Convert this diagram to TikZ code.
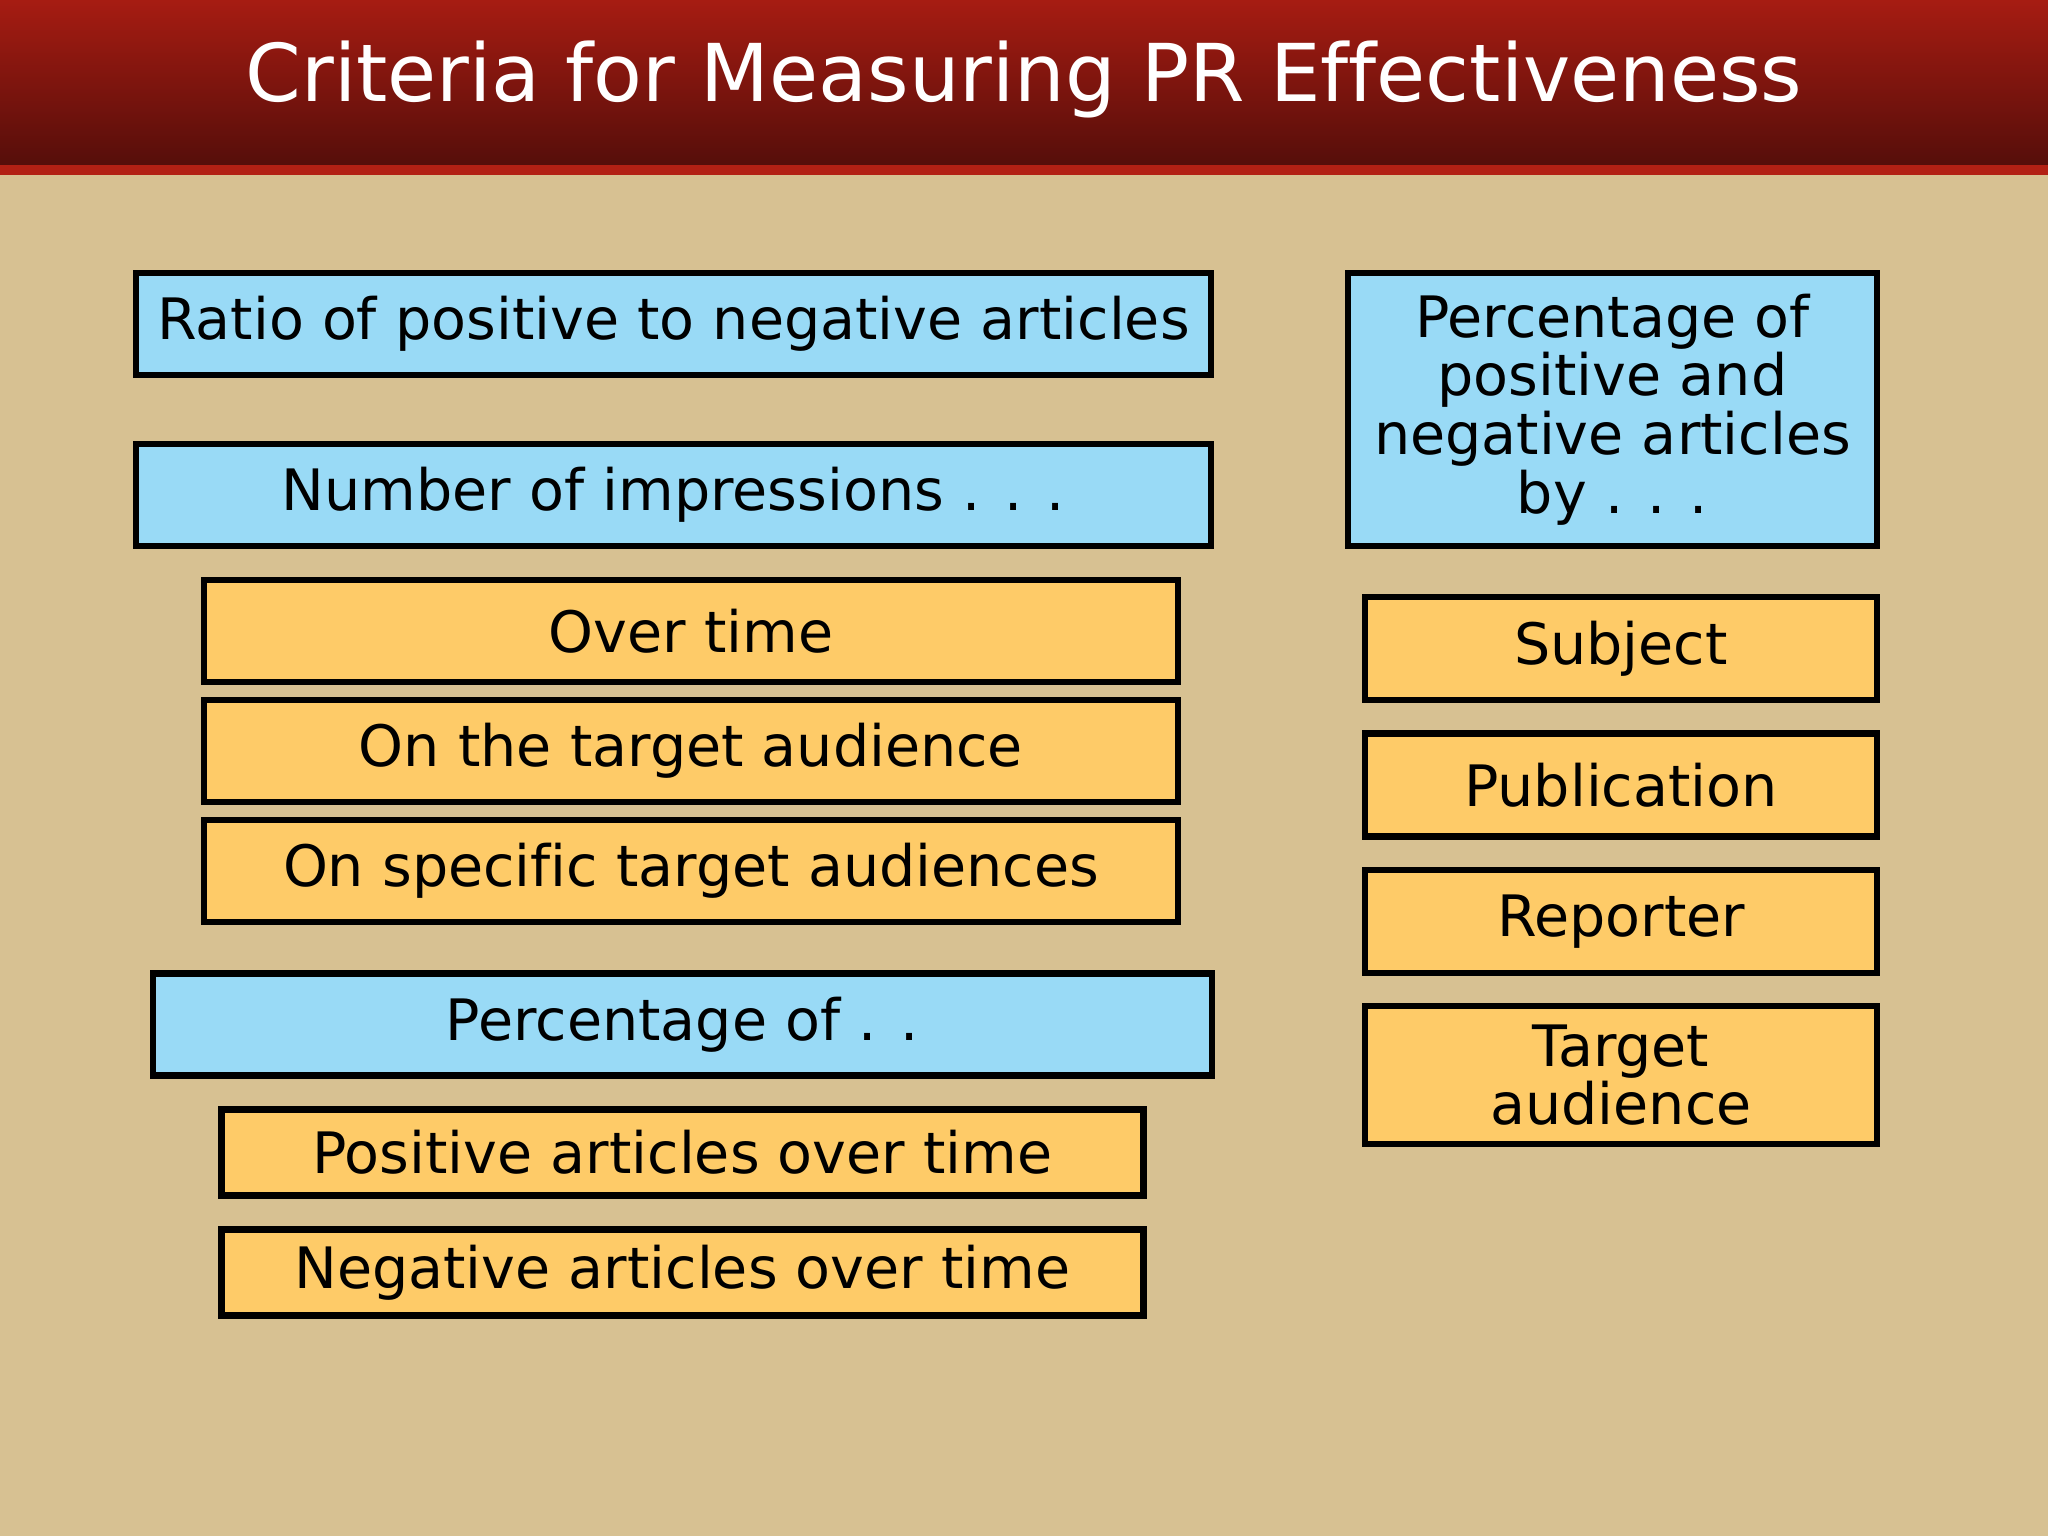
\documentclass[tikz,border=0pt]{standalone}
\usepackage{fontspec}
\setmainfont[Ligatures=NoCommon]{DejaVu Sans}
\usetikzlibrary{positioning}

\definecolor{slidetan}{RGB}{215,193,146}
\definecolor{bartop}{RGB}{166,28,18}
\definecolor{barbottom}{RGB}{86,14,10}
\definecolor{barline}{RGB}{178,32,20}
\definecolor{boxblue}{RGB}{153,218,246}
\definecolor{boxorange}{RGB}{254,203,104}

\begin{document}
\begin{tikzpicture}[node distance=1.2cm]
      % Background and title bar
      \fill[slidetan] (0,0) rectangle (20.48,-15.36);
      \shade[top color=bartop, bottom color=barbottom] (0,0) rectangle (20.48,-1.65);
      \fill[barline] (0,-1.65) rectangle (20.48,-1.75);
      \node[text=white, font=\fontsize{22.7}{24}\selectfont] (title) at (10.24,-0.79) {Criteria for Measuring PR Effectiveness};

      % Define the styles for the boxes
      \tikzstyle{box}=[rectangle, draw=black, line width=1.8pt, align=center, inner sep=0pt, font=\fontsize{16.25}{16.7}\selectfont]
      \tikzstyle{mainbox}=[box, fill=boxblue, minimum height=1.02cm]
      \tikzstyle{subbox}=[box, fill=boxorange, minimum height=1.02cm]

      % Left column
      \node[mainbox, minimum width=10.75cm] (ratio) at (6.735,-3.24) {Ratio of positive to negative articles};
      \node[mainbox, minimum width=10.75cm] (impr) [below of=ratio, yshift=-0.51cm] {Number of impressions . . .};
      \node[subbox, minimum width=9.74cm] (overtime) [below of=impr, xshift=0.175cm, yshift=-0.16cm] {Over time};
      \node[subbox, minimum width=9.74cm] (audience) [below of=overtime] {On the target audience};
      \node[subbox, minimum width=9.74cm] (specific) [below of=audience] {On specific target audiences};

      \node[mainbox, minimum width=10.59cm] (pctof) [below of=specific, xshift=-0.085cm, yshift=-0.335cm] {Percentage of . .};
      \node[subbox, minimum width=9.22cm, minimum height=0.86cm] (positive) [below of=pctof, yshift=-0.08cm] {Positive articles over time};
      \node[subbox, minimum width=9.22cm, minimum height=0.86cm] (negative) [below of=positive] {Negative articles over time};

      % Right column
      \node[mainbox, minimum width=5.29cm, minimum height=2.73cm] (byart) at (16.125,-4.095) {Percentage of\\positive and\\negative articles\\by . . .};
      \node[subbox, minimum width=5.12cm, minimum height=1.03cm] (subject) [below of=byart, xshift=0.085cm, yshift=-1.19cm] {Subject};
      \node[subbox, minimum width=5.12cm, minimum height=1.03cm] (publication) [below of=subject, yshift=-0.165cm] {Publication};
      \node[subbox, minimum width=5.12cm, minimum height=1.03cm] (reporter) [below of=publication, yshift=-0.165cm] {Reporter};
      \node[subbox, minimum width=5.12cm, minimum height=1.38cm] (target) [below of=reporter, yshift=-0.335cm] {Target\\audience};

\end{tikzpicture}
\end{document}
